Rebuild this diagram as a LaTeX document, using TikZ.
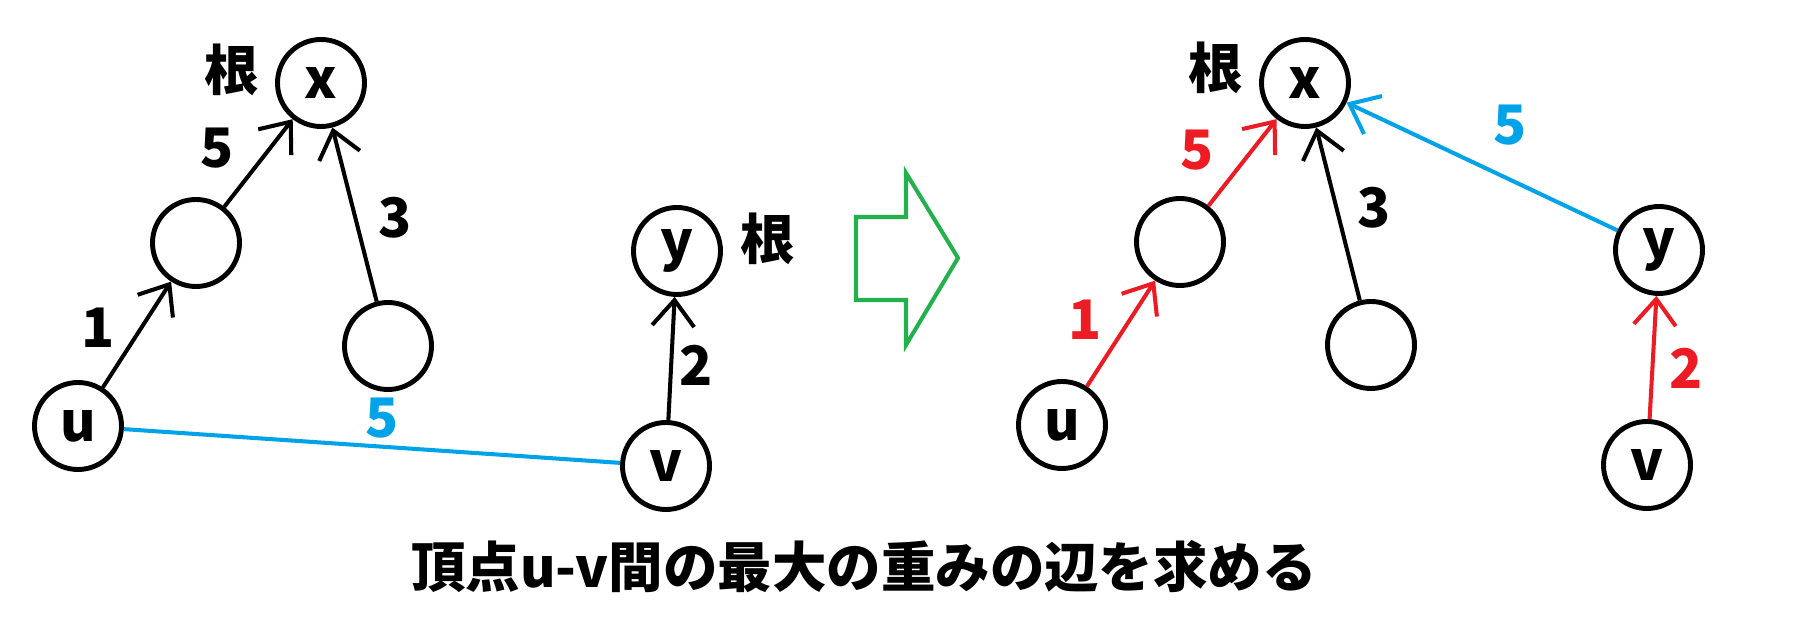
\documentclass[tikz,border=0pt]{standalone}
\usepackage{fontspec}
\setmainfont{Noto Sans CJK JP}
\usetikzlibrary{arrows.meta}
\definecolor{paintred}{HTML}{ED1C24}
\definecolor{paintblue}{HTML}{00A2E8}
\definecolor{paintgreen}{HTML}{22B14C}

\begin{document}
\begin{tikzpicture}[
		every node/.style={font=\fontsize{15.5}{18}\selectfont\bfseries},
		vertex/.style={circle,draw,line width=1.4pt,minimum size=0.87cm,inner sep=0pt},
		tree edge/.style={line width=1.15pt,-{Straight Barb[length=2.6mm,width=4.2mm]}},
		weight/.style={inner sep=0pt}]
		\useasboundingbox (0,0) rectangle (18.04,6.18);
		% before
		\node[vertex] (xL) at (3.21,5.35) {x};
		\node[vertex] (aL) at (1.96,3.75) {};
		\node[vertex] (bL) at (3.88,2.72) {};
		\node[vertex] (uL) at (0.78,1.92) {u};
		\node[vertex] (yL) at (6.77,3.67) {y};
		\node[vertex] (vL) at (6.66,1.52) {v};
		\node (rootxL) at (2.32,5.48) {根};
		\node (rootyL) at (7.68,3.79) {根};
		\draw[tree edge] (aL) -- (xL);
		\draw[tree edge] (bL) -- (xL);
		\draw[tree edge] (uL) -- (aL);
		\draw[tree edge] (vL) -- (yL);
		\draw[paintblue,line width=1.15pt] (uL) -- (vL);
		\node[weight] (wL5) at (2.17,4.70) {5};
		\node[weight] (wL3) at (3.95,4.00) {3};
		\node[weight] (wL1) at (0.98,2.90) {1};
		\node[weight] (wL2) at (6.96,2.53) {2};
		\node[weight,text=paintblue] (wLuv) at (3.82,2.00) {5};
		% arrow
		\draw[paintgreen,line width=1.15pt] (8.56,4.01) -- (9.06,4.01) -- (9.06,4.45) -- (9.58,3.60)
			-- (9.06,2.73) -- (9.06,3.18) -- (8.56,3.18) -- cycle;
		% after
		\node[vertex] (xR) at (13.05,5.35) {x};
		\node[vertex] (aR) at (11.80,3.76) {};
		\node[vertex] (bR) at (13.71,2.73) {};
		\node[vertex] (uR) at (10.62,1.93) {u};
		\node[vertex] (yR) at (16.59,3.68) {y};
		\node[vertex] (vR) at (16.47,1.53) {v};
		\node (rootxR) at (12.16,5.50) {根};
		\draw[tree edge,paintred] (aR) -- (xR);
		\draw[tree edge] (bR) -- (xR);
		\draw[tree edge,paintred] (uR) -- (aR);
		\draw[tree edge,paintred] (vR) -- (yR);
		\draw[tree edge,paintblue] (yR) -- (xR);
		\node[weight,text=paintred] (wR5) at (11.97,4.68) {5};
		\node[weight] (wR3) at (13.74,4.10) {3};
		\node[weight,text=paintred] (wR1) at (10.85,2.98) {1};
		\node[weight,text=paintred] (wR2) at (16.86,2.50) {2};
		\node[weight,text=paintblue] (wRyx) at (15.10,4.93) {5};
		\node (caption) at (8.64,0.51) {頂点u-v間の最大の重みの辺を求める};
\end{tikzpicture}
\end{document}
